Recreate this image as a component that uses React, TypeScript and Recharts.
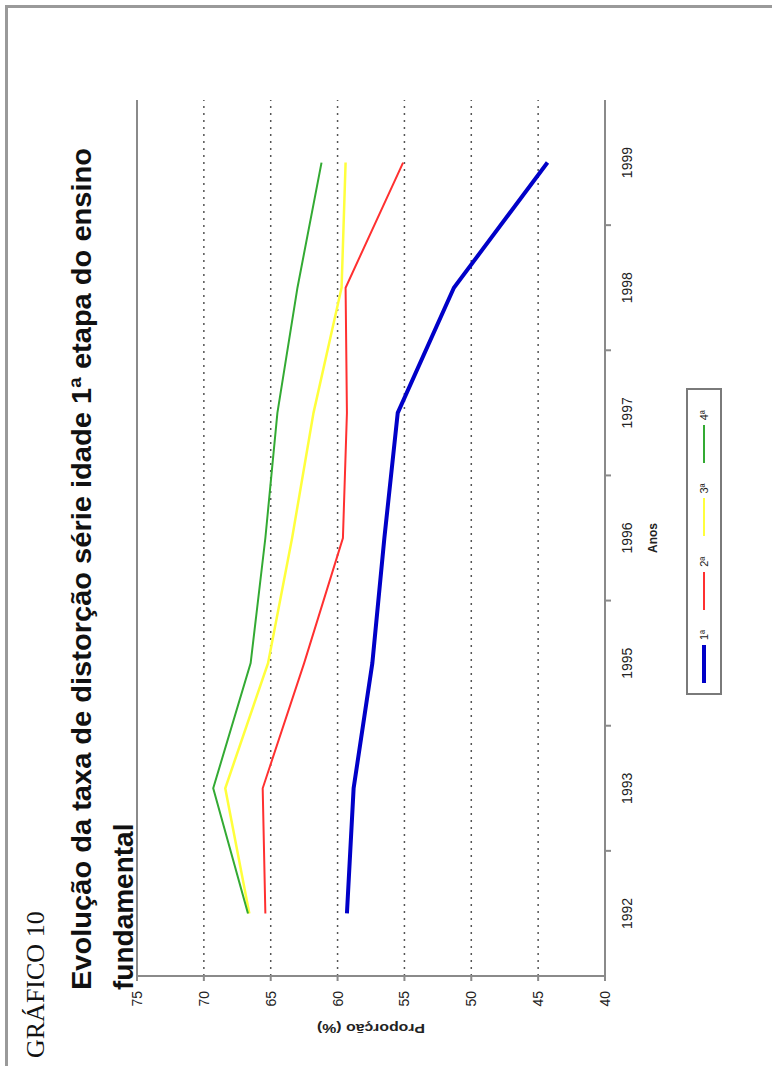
import React from 'react';
import { LineChart, Line, XAxis, YAxis, CartesianGrid, Legend, ReferenceLine } from 'recharts';

// valores (proporção %)
const anos = ['1992', '1993', '1995', '1996', '1997', '1998', '1999'];
const serie1 = [59.3, 58.8, 57.4, 56.5, 55.5, 51.3, 44.3];
const serie2 = [65.4, 65.6, 62.5, 59.6, 59.3, 59.4, 55.1];
const serie3 = [66.6, 68.4, 65.2, 63.4, 61.8, 59.7, 59.4];
const serie4 = [66.7, 69.3, 66.5, 65.4, 64.5, 63.0, 61.2];
const yTicks = [40, 45, 50, 55, 60, 65, 70, 75];
const nomes = ['1ª', '2ª', '3ª', '4ª'];
const cores = ['#0000c8', '#ff3030', '#ffff3c', '#33aa33'];
const larguras = [4, 2, 2.5, 2];

const dados = anos.map((ano, i) => ({
  ano,
  s1: serie1[i],
  s2: serie2[i],
  s3: serie3[i],
  s4: serie4[i],
}));

// gráfico desenhado "deitado" e depois girado -90°
const W = 1066;
const H = 772;
const margem = { top: 137, right: 100, bottom: 137, left: 38 };
const larguraY = 52;
const alturaX = 30;
const larguraPlot = W - margem.left - margem.right - larguraY;
const faixa = larguraPlot / anos.length;

const fonteEixo = '"Liberation Sans Narrow", "Liberation Sans", Arial, sans-serif';
const cinza = '#8a8a8a';

function AnoTick(props: any) {
  const { x, y, payload, index } = props;
  return (
    <g>
      {index > 0 && (
        <line x1={x - faixa / 2} x2={x - faixa / 2} y1={y} y2={y + 6} stroke={cinza} strokeWidth={2} />
      )}
      <text x={x} y={y + 27} textAnchor="middle" fontSize={14} fontFamily={fonteEixo} fill="#222">
        {payload.value}
      </text>
    </g>
  );
}

function RotuloY(props: any) {
  const { viewBox } = props;
  const cx = viewBox.x + 4;
  const cy = viewBox.y + viewBox.height / 2;
  return (
    <text
      x={cx}
      y={cy}
      transform={`rotate(-90 ${cx} ${cy})`}
      textAnchor="middle"
      fontSize={12}
      fontWeight="bold"
      fontFamily={fonteEixo}
      fill="#222"
      textLength={108}
      lengthAdjust="spacingAndGlyphs"
    >
      Proporção (%)
    </text>
  );
}

function Legenda(props: any) {
  const { payload } = props;
  return (
    <div
      style={{
        boxSizing: 'border-box',
        width: 307,
        height: 36,
        border: '2px solid #7a7a7a',
        background: '#fff',
        display: 'flex',
        alignItems: 'center',
        paddingLeft: 10,
      }}
    >
      {(payload || []).map((p: any, i: number) => (
        <div key={p.value} style={{ display: 'flex', alignItems: 'center', width: 76 }}>
          <div style={{ width: 38, height: i === 0 ? 4 : 2, background: p.color }} />
          <span style={{ marginLeft: 5, fontSize: 11, fontFamily: fonteEixo, color: '#222' }}>{p.value}</span>
        </div>
      ))}
    </div>
  );
}

export default function App() {
  return (
    <div style={{ position: 'absolute', left: 0, top: 0, width: 772, height: 1066, overflow: 'hidden', background: '#fff' }}>
      <div
        style={{
          position: 'absolute',
          left: 5,
          top: 5,
          right: 0,
          bottom: 0,
          borderTop: '3px solid #9a9a9a',
          borderLeft: '3px solid #9a9a9a',
        }}
      />
      <div
        style={{
          position: 'absolute',
          left: 0,
          top: 0,
          width: W,
          height: H,
          transformOrigin: '0 0',
          transform: `translate(0px, ${W}px) rotate(-90deg)`,
        }}
      >
        <LineChart width={W} height={H} data={dados} margin={margem}>
          <CartesianGrid vertical={false} stroke="#555" strokeDasharray="2 5" strokeWidth={1.5} />
          <XAxis
            dataKey="ano"
            scale="band"
            height={alturaX}
            tickLine={false}
            tickSize={0}
            tickMargin={0}
            tick={<AnoTick />}
            axisLine={{ stroke: cinza, strokeWidth: 2 }}
            label={{ value: 'Anos', position: 'bottom', offset: 13, fontSize: 12, fontWeight: 'bold', fill: '#222', fontFamily: fonteEixo }}
          />
          <YAxis
            width={larguraY}
            domain={[40, 75]}
            ticks={yTicks}
            interval={0}
            tickSize={5}
            tickMargin={10}
            tickLine={{ stroke: cinza, strokeWidth: 2 }}
            axisLine={{ stroke: cinza, strokeWidth: 2 }}
            tick={{ fontSize: 14, fill: '#222', fontFamily: fonteEixo }}
            label={<RotuloY />}
          />
          <YAxis
            yAxisId="dir"
            orientation="right"
            width={0}
            domain={[40, 75]}
            tick={false}
            tickLine={false}
            axisLine={{ stroke: cinza, strokeWidth: 2 }}
          />
          {/* borda superior da área do gráfico */}
          <ReferenceLine y={75} stroke={cinza} strokeWidth={2} />
          {['s1', 's2', 's3', 's4'].map((k, i) => (
            <Line
              key={k}
              type="linear"
              dataKey={k}
              name={nomes[i]}
              stroke={cores[i]}
              strokeWidth={larguras[i]}
              dot={false}
              activeDot={false}
              isAnimationActive={false}
            />
          ))}
          <Legend
            layout="horizontal"
            verticalAlign="middle"
            align="center"
            wrapperStyle={{ left: 371, top: 686, width: 307, height: 36 }}
            content={<Legenda />}
          />
        </LineChart>
        <svg width={W} height={H} style={{ position: 'absolute', left: 0, top: 0, pointerEvents: 'none' }}>
          <text x={8} y={44} fontSize={26} fontFamily='"Liberation Serif", "Times New Roman", serif' fill="#111">
            GRÁFICO 10
          </text>
          <text
            x={76}
            y={91}
            fontSize={28}
            fontWeight="bold"
            fontFamily='"Liberation Sans", Arial, sans-serif'
            fill="#111"
            textLength={842}
            lengthAdjust="spacingAndGlyphs"
          >
            Evolução da taxa de distorção série idade 1ª etapa do ensino
          </text>
          <text x={76} y={133} fontSize={28} fontWeight="bold" fontFamily='"Liberation Sans", Arial, sans-serif' fill="#111">
            fundamental
          </text>
        </svg>
      </div>
    </div>
  );
}
